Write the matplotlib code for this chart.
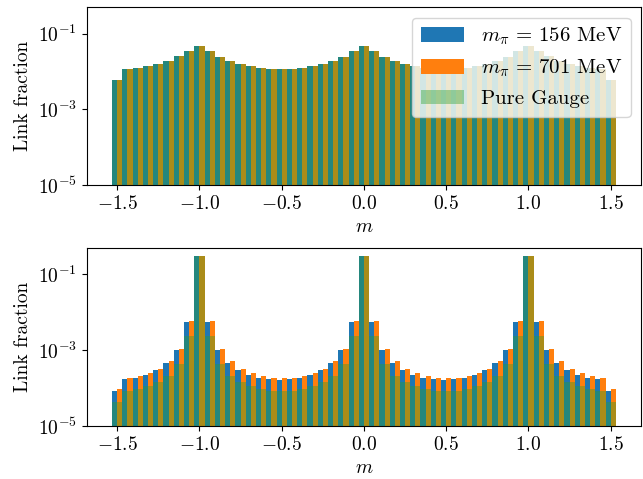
import matplotlib
matplotlib.use("Agg")
import matplotlib.pyplot as plt
import matplotlib.ticker as mticker
import numpy as np

plt.rcParams['font.family'] = 'serif'
plt.rcParams['font.serif'] = ['cmr10']
plt.rcParams['mathtext.fontset'] = 'cm'
plt.rcParams['axes.formatter.use_mathtext'] = True
plt.rcParams['font.size'] = 14
plt.rcParams['axes.unicode_minus'] = True

# bin centres of m, width 1/16
m_centres = np.arange(-24, 25) / 16
bin_w = 1 / 16

labels = [r'$m_\pi\,=\,156$ MeV', r'$m_\pi\,=\,701$ MeV', 'Pure Gauge']

# upper panel
top_156 = [0.0060, 0.0117, 0.0124, 0.0140, 0.0158, 0.0190, 0.0250, 0.0350, 0.0470,
           0.0350, 0.0245, 0.0190, 0.0158, 0.0140, 0.0124, 0.0117, 0.0117,
           0.0117, 0.0124, 0.0140, 0.0158, 0.0190, 0.0245, 0.0350, 0.0470,
           0.0350, 0.0245, 0.0190, 0.0158, 0.0140, 0.0124, 0.0117, 0.0117,
           0.0117, 0.0124, 0.0140, 0.0158, 0.0190, 0.0245, 0.0350, 0.0470,
           0.0350, 0.0250, 0.0190, 0.0158, 0.0140, 0.0124, 0.0117, 0.0060]
top_701 = [0.0060, 0.0117, 0.0124, 0.0140, 0.0158, 0.0190, 0.0250, 0.0350, 0.0470,
           0.0350, 0.0245, 0.0190, 0.0158, 0.0140, 0.0124, 0.0117, 0.0117,
           0.0117, 0.0124, 0.0140, 0.0158, 0.0190, 0.0245, 0.0350, 0.0470,
           0.0350, 0.0245, 0.0190, 0.0158, 0.0140, 0.0124, 0.0117, 0.0117,
           0.0117, 0.0124, 0.0140, 0.0158, 0.0190, 0.0245, 0.0350, 0.0470,
           0.0350, 0.0250, 0.0190, 0.0158, 0.0140, 0.0124, 0.0117, 0.0060]
top_pg = [0.0060, 0.0117, 0.0124, 0.0140, 0.0158, 0.0190, 0.0250, 0.0350, 0.0470,
          0.0350, 0.0245, 0.0190, 0.0158, 0.0140, 0.0124, 0.0117, 0.0117,
          0.0117, 0.0124, 0.0140, 0.0158, 0.0190, 0.0245, 0.0350, 0.0470,
          0.0350, 0.0245, 0.0190, 0.0158, 0.0140, 0.0124, 0.0117, 0.0117,
          0.0117, 0.0124, 0.0140, 0.0158, 0.0190, 0.0245, 0.0350, 0.0470,
          0.0350, 0.0250, 0.0190, 0.0158, 0.0140, 0.0124, 0.0117, 0.0060]

# lower panel
bot_156 = [8.3e-5, 1.72e-4, 1.82e-4, 2.2e-4, 2.95e-4, 4.55e-4, 1.0e-3, 5.5e-3, 0.30,
           5.5e-3, 1.0e-3, 4.55e-4, 2.95e-4, 2.2e-4, 1.82e-4, 1.72e-4, 1.62e-4,
           1.72e-4, 1.82e-4, 2.2e-4, 2.95e-4, 4.55e-4, 1.0e-3, 5.5e-3, 0.30,
           5.5e-3, 1.0e-3, 4.55e-4, 2.95e-4, 2.2e-4, 1.82e-4, 1.72e-4, 1.62e-4,
           1.72e-4, 1.82e-4, 2.2e-4, 2.95e-4, 4.55e-4, 1.0e-3, 5.5e-3, 0.30,
           5.5e-3, 1.0e-3, 4.55e-4, 2.95e-4, 2.2e-4, 1.82e-4, 1.72e-4, 8.3e-5]
bot_701 = [9.3e-5, 1.82e-4, 2.04e-4, 2.45e-4, 3.15e-4, 5.1e-4, 1.07e-3, 5.9e-3, 0.30,
           5.9e-3, 1.07e-3, 5.1e-4, 3.15e-4, 2.45e-4, 2.04e-4, 1.82e-4, 1.82e-4,
           1.82e-4, 2.04e-4, 2.45e-4, 3.15e-4, 5.1e-4, 1.07e-3, 5.9e-3, 0.30,
           5.9e-3, 1.07e-3, 5.1e-4, 3.15e-4, 2.45e-4, 2.04e-4, 1.82e-4, 1.82e-4,
           1.82e-4, 2.04e-4, 2.45e-4, 3.15e-4, 5.1e-4, 1.07e-3, 5.9e-3, 0.30,
           5.9e-3, 1.07e-3, 5.1e-4, 3.15e-4, 2.45e-4, 2.04e-4, 1.82e-4, 9.3e-5]
bot_pg = [4.3e-5, 8.3e-5, 9.3e-5, 1.12e-4, 1.42e-4, 2.1e-4, 4.3e-4, 2.3e-3, 0.31,
          2.3e-3, 4.3e-4, 2.1e-4, 1.42e-4, 1.12e-4, 9.3e-5, 8.3e-5, 8.3e-5,
          8.3e-5, 9.3e-5, 1.12e-4, 1.42e-4, 2.1e-4, 4.3e-4, 2.3e-3, 0.31,
          2.3e-3, 4.3e-4, 2.1e-4, 1.42e-4, 1.12e-4, 9.3e-5, 8.3e-5, 8.3e-5,
          8.3e-5, 9.3e-5, 1.12e-4, 1.42e-4, 2.1e-4, 4.3e-4, 2.3e-3, 0.31,
          2.3e-3, 4.3e-4, 2.1e-4, 1.42e-4, 1.12e-4, 9.3e-5, 8.3e-5, 4.3e-5]

fig, axes = plt.subplots(2, 1, figsize=(6.43, 4.79), dpi=100)
fig.subplots_adjust(left=0.135, right=0.997, top=0.985, bottom=0.111, hspace=0.354)

panels = [(top_156, top_701, top_pg), (bot_156, bot_701, bot_pg)]
for ax, (a, b, pg) in zip(axes, panels):
    ax.set_yscale('log')
    ax.bar(m_centres - bin_w / 4, a, width=bin_w / 2, color='tab:blue', label=labels[0])
    ax.bar(m_centres + bin_w / 4, b, width=bin_w / 2, color='tab:orange', label=labels[1])
    ax.bar(m_centres, pg, width=bin_w, color='tab:green', alpha=0.4, label=labels[2])
    ax.set_ylim(1e-5, 0.5)
    ax.set_yticks([1e-5, 1e-3, 1e-1])
    ax.yaxis.set_minor_locator(mticker.NullLocator())
    ax.set_xticks([-1.5, -1.0, -0.5, 0.0, 0.5, 1.0, 1.5])
    ax.set_xlabel(r'$m$')
    ax.set_ylabel('Link fraction')

axes[0].legend(loc='upper right', fontsize=15, handlelength=2.1)

fig.savefig('out.png', dpi=100)
